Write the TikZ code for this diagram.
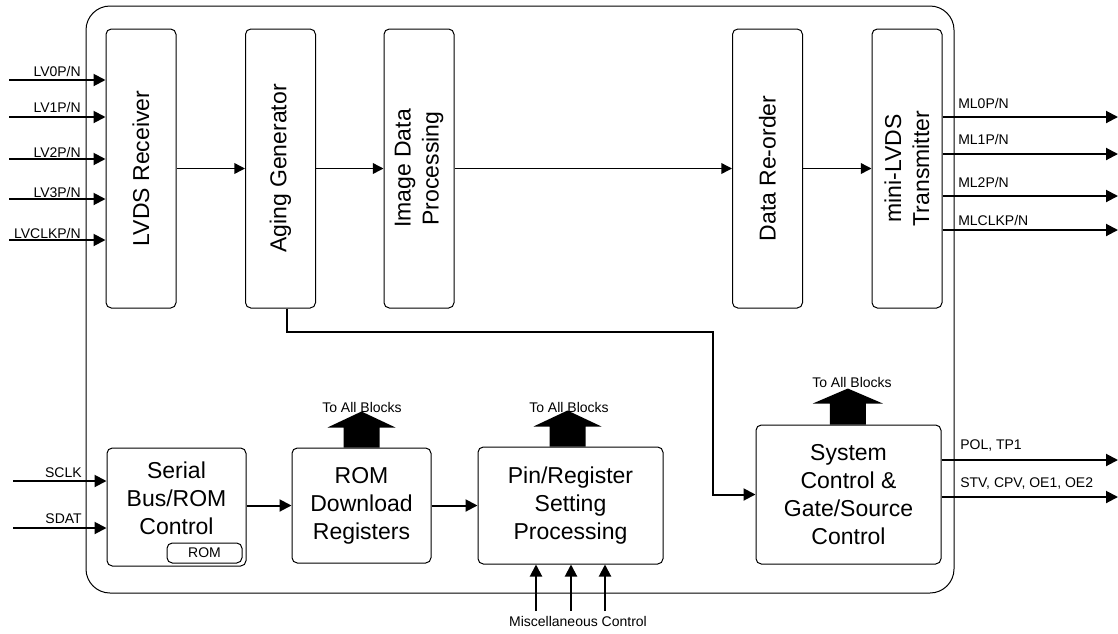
\documentclass[tikz,border=0pt]{standalone}
\usepackage{fontspec}
\setmainfont{Liberation Sans}
\usetikzlibrary{arrows.meta,calc,positioning}

\begin{document}
\begin{tikzpicture}[x=0.75pt, y=-0.75pt,
  blk/.style={draw, rounded corners=4pt, line width=0.75pt, inner sep=0pt},
  vbox/.style={blk, minimum width=52.5pt, minimum height=209.25pt},
  big/.style={font=\fontsize{17.25}{21}\selectfont, align=center},
  lbl/.style={font=\fontsize{10.5}{12}\selectfont, inner sep=0pt},
  sig/.style={line width=1.5pt, -{Triangle[length=9pt,width=9pt]}},
  flow/.style={line width=1.1pt, -{Triangle[length=8pt,width=8pt]}}]
  \useasboundingbox (0,0) rectangle (1118,633);
  % chip outline
  \node[draw, line width=0.75pt, rounded corners=18pt, minimum width=651pt, minimum height=440.25pt] (chip) at (520,299.5) {};
  % data path
  \node[vbox, label={[big,rotate=90]center:LVDS Receiver}] (rx) at (141,168.5) {};
  \node[vbox, label={[big,rotate=90]center:Aging Generator}] (ag) at (280.5,168.5) {};
  \node[vbox, label={[big,rotate=90]center:Image Data\\Processing}] (img) at (419,168.5) {};
  \node[vbox, label={[big,rotate=90]center:Data Re-order}] (reo) at (767.5,168.5) {};
  \node[vbox, label={[big,rotate=90]center:mini-LVDS\\Transmitter}] (tx) at (907,168.5) {};
  % control path
  \node[blk, minimum width=104.25pt, minimum height=88.5pt] (ser) at (176.5,507) {};
  \node[big] (sertxt) at (176.5,498) {Serial\\Bus/ROM\\Control};
  \node[blk, lbl, minimum width=56.25pt, minimum height=15pt] (rom) at (204.5,553) {ROM};
  \node[blk, big, minimum width=104.25pt, minimum height=86.25pt] (romdl) at (361.5,505.5) {ROM\\Download\\Registers};
  \node[blk, big, minimum width=138.75pt, minimum height=87.75pt] (pin) at (570.5,505.5) {Pin/Register\\Setting\\Processing};
  \node[blk, big, minimum width=138.75pt, minimum height=104.25pt] (sys) at (848.5,494.5) {System\\Control \&\\Gate/Source\\Control};
  % Arrows
  \draw[flow] (rx) -- (ag);
  \draw[flow] (ag) -- (img);
  \draw[flow] (img) -- (reo);
  \draw[flow] (reo) -- (tx);
  \draw[sig] (ser.east |- romdl) -- (romdl);
  \draw[sig] (romdl) -- (pin);
  \coordinate (bend) at (713,332);
  \draw[sig] ([xshift=4.9pt]ag.south) |- (bend) |- (sys.west);
  % LVDS inputs
  \foreach \nm/\yy/\by in {0/80/76, 1/117/112, 2/159/157, 3/199/197, CLK/240/238} {
    \coordinate (lv\nm) at (9,\yy);
    \draw[sig] (lv\nm) -- (lv\nm -| rx.west);
    \node[lbl, anchor=base east] (lvl\nm) at (81,\by) {LV\nm P/N};
  }
  % mini-LVDS outputs
  \foreach \nm/\yy/\by in {0/117/108, 1/154/144, 2/196/187, CLK/230/225} {
    \coordinate (ml\nm) at (1118,\yy);
    \draw[sig] (tx.east |- ml\nm) -- (ml\nm);
    \node[lbl, anchor=base west] (mll\nm) at (958,\by) {ML\nm P/N};
  }
  % timing outputs
  \coordinate (pol) at (1118,460);
  \draw[sig] (sys.east |- pol) -- (pol);
  \node[lbl, anchor=base west] (poll) at (960,449) {POL, TP1};
  \coordinate (stv) at (1118,497);
  \draw[sig] (sys.east |- stv) -- (stv);
  \node[lbl, anchor=base west] (stvl) at (960,487) {STV, CPV, OE1, OE2};
  % serial bus
  \foreach \nm/\yy/\by in {SCLK/481/477, SDAT/528/523} {
    \coordinate (\nm) at (13,\yy);
    \draw[sig] (\nm) -- (\nm -| ser.west);
    \node[lbl, anchor=base east] (\nm l) at (82,\by) {\nm};
  }
  % misc control
  \foreach \i/\xx in {1/536, 2/571, 3/605} {
    \coordinate (misc\i) at (\xx,611);
    \draw[sig] (misc\i) -- (misc\i |- pin.south);
  }
  \node[lbl] (misc) at (578,621) {Miscellaneous Control};
  % To All Blocks
  \node[lbl] (all1) at (362,407) {To All Blocks};
  \fill ([xshift=-13.5pt]romdl.north) -- ++(0,-20) -- ++(-16,0) -- ++(34,-16) -- ++(34,16) -- ++(-16,0) -- ++(0,20) -- cycle;
  \node[lbl] (all2) at (569,407) {To All Blocks};
  \fill ([xshift=-15.75pt]pin.north) -- ++(0,-20) -- ++(-16,0) -- ++(34,-16) -- ++(34,16) -- ++(-16,0) -- ++(0,20) -- cycle;
  \node[lbl] (all3) at (852,382) {To All Blocks};
  \fill ([xshift=-14pt]sys.north) -- ++(0,-21) -- ++(-17,0) -- ++(35,-15) -- ++(35,15) -- ++(-17,0) -- ++(0,21) -- cycle;
\end{tikzpicture}
\end{document}
